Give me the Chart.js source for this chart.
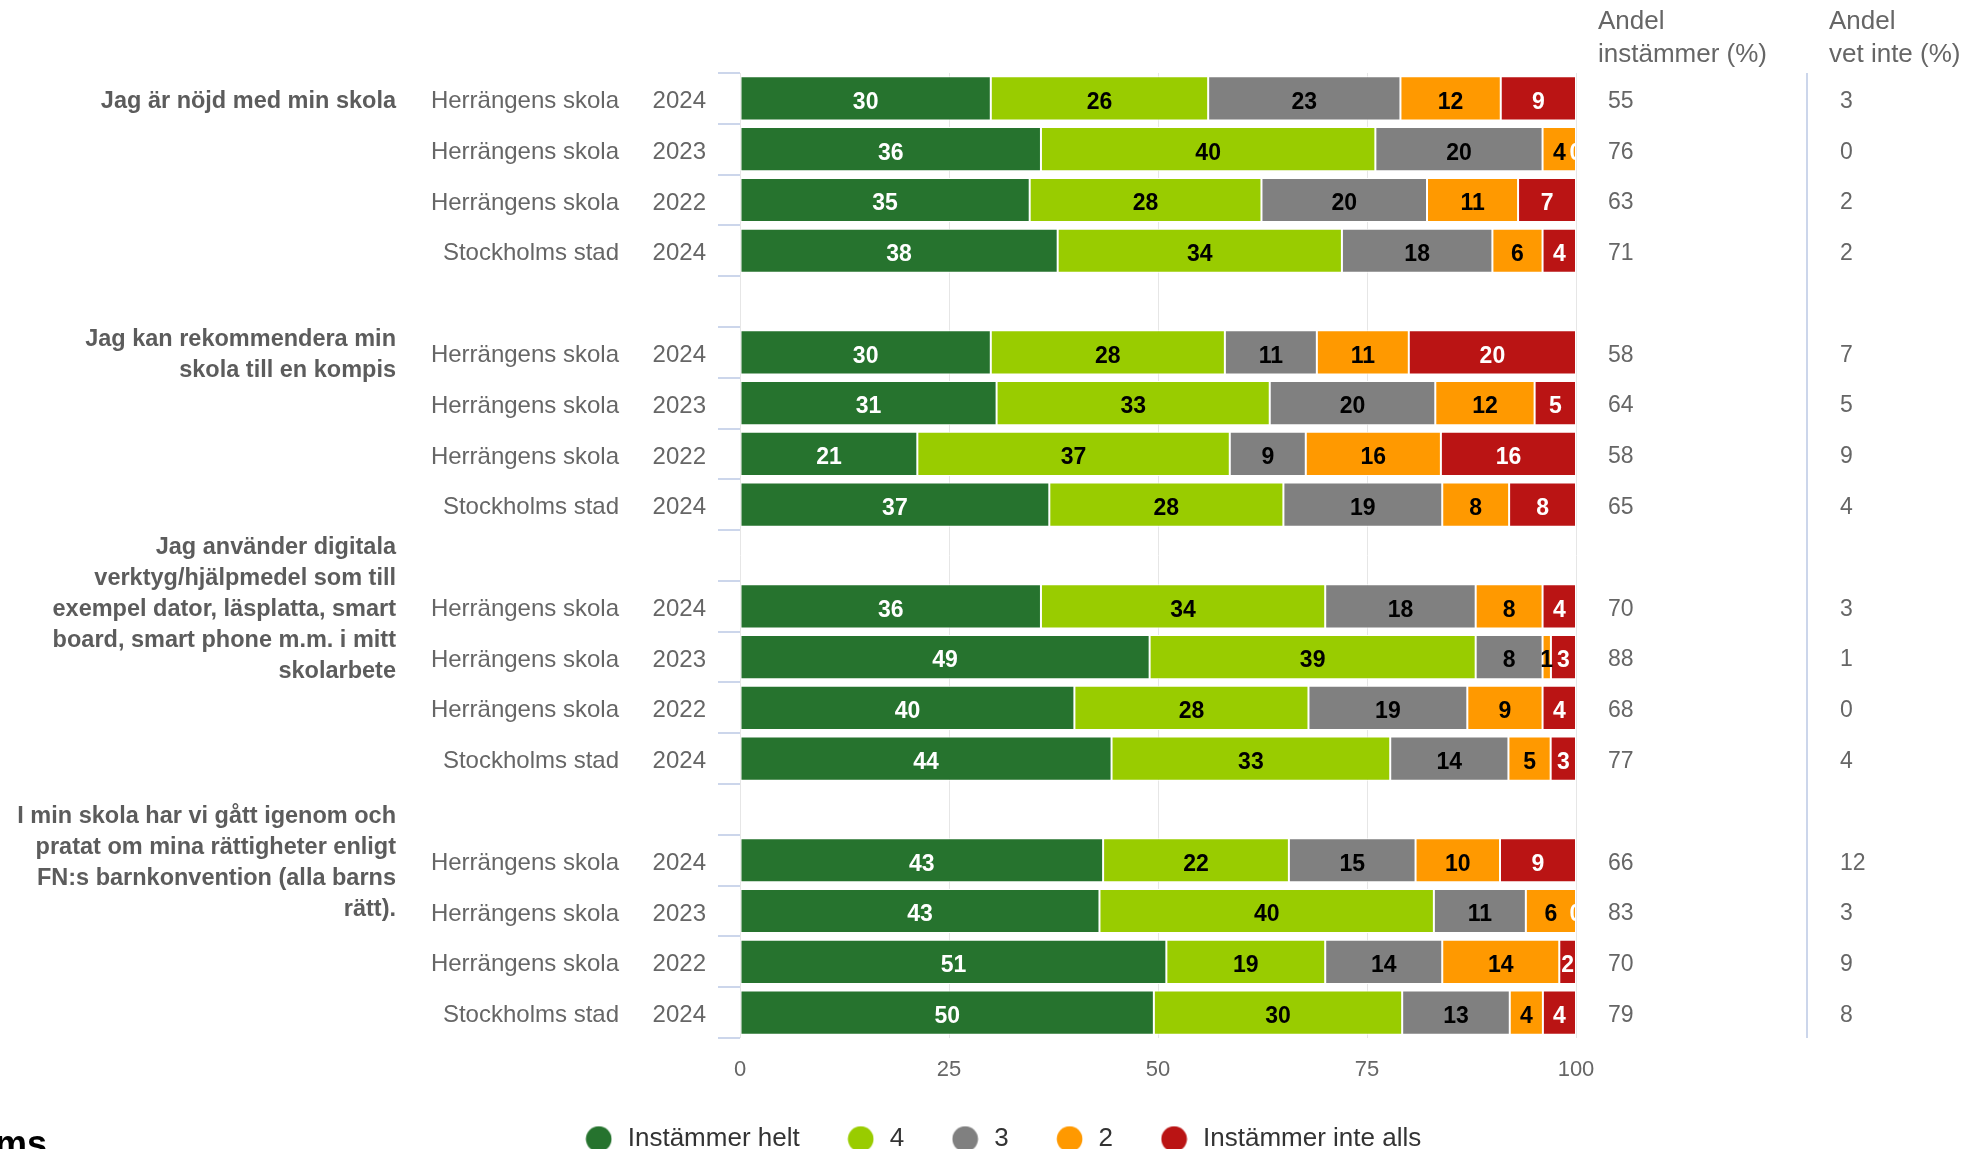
<!DOCTYPE html>
<html lang="sv">
<head>
<meta charset="UTF-8">
<title>Elevenkät Herrängens skola</title>
<script src="https://cdn.jsdelivr.net/npm/chart.js"></script>
<style>
  html, body { margin: 0; padding: 0; background: #fff; overflow: hidden; }
  canvas { display: block; }
</style>
</head>
<body>
<canvas id="chart" width="1970" height="1162"></canvas>
<script>
// question texts, already split the way they wrap in the original
const questions = [
  ['Jag är nöjd med min skola'],
  ['Jag kan rekommendera min', 'skola till en kompis'],
  ['Jag använder digitala', 'verktyg/hjälpmedel som till', 'exempel dator, läsplatta, smart', 'board, smart phone m.m. i mitt', 'skolarbete'],
  ['I min skola har vi gått igenom och', 'pratat om mina rättigheter enligt', 'FN:s barnkonvention (alla barns', 'rätt).']
];
const units = ['Herrängens skola', 'Herrängens skola', 'Herrängens skola', 'Stockholms stad'];
const years = ['2024', '2023', '2022', '2024'];
const seriesNames = ['Instämmer helt', '4', '3', '2', 'Instämmer inte alls'];

// one value per row, 4 rows per question
const helt     = [30, 36, 35, 38,  30, 31, 21, 37,  36, 49, 40, 44,  43, 43, 51, 50];
const fyra     = [26, 40, 28, 34,  28, 33, 37, 28,  34, 39, 28, 33,  22, 40, 19, 30];
const tre      = [23, 20, 20, 18,  11, 20,  9, 19,  18,  8, 19, 14,  15, 11, 14, 13];
const tva      = [12,  4, 11,  6,  11, 12, 16,  8,   8,  1,  9,  5,  10,  6, 14,  4];
const inteAlls = [ 9,  0,  7,  4,  20,  5, 16,  8,   4,  3,  4,  3,   9,  0,  2,  4];
const andelInstammer = [55, 76, 63, 71,  58, 64, 58, 65,  70, 88, 68, 77,  66, 83, 70, 79];
const andelVetInte   = [ 3,  0,  2,  2,   7,  5,  9,  4,   3,  1,  0,  4,  12,  3,  9,  8];
const xTicks = [0, 25, 50, 75, 100];

const series = [helt, fyra, tre, tva, inteAlls];
const colors = ['#26732e', '#99cc00', '#808080', '#ff9900', '#ba1414'];
const labelColors = ['#ffffff', '#000000', '#000000', '#000000', '#ffffff'];
const family = '"Liberation Sans", Arial, Helvetica, sans-serif';

// rows of the y axis, with an empty slot between questions
const rows = [];
questions.forEach((q, qi) => {
  if (qi > 0) rows.push(null);
  for (let r = 0; r < 4; r++) rows.push({ q: qi, r: r, i: qi * 4 + r });
});
const totals = helt.map((_, i) => series.reduce((s, arr) => s + arr[i], 0));

// small round markers for the legend
function dot(color) {
  const c = document.createElement('canvas');
  c.width = 27; c.height = 27;
  const g = c.getContext('2d');
  g.fillStyle = color;
  g.beginPath();
  g.arc(13.5, 13.5, 12.8, 0, Math.PI * 2);
  g.fill();
  return c;
}

// percent stacking like the original: every bar fills 0-100
const datasets = seriesNames.map((name, s) => ({
  label: name,
  data: rows.map(row => row ? series[s][row.i] * 100 / totals[row.i] : null),
  backgroundColor: colors[s],
  borderColor: '#ffffff',
  borderWidth: 1,
  borderSkipped: false,
  barPercentage: 0.87,
  categoryPercentage: 1,
  pointStyle: dot(colors[s])
}));

const sidePlugin = {
  id: 'side',
  afterDatasetsDraw(chart) {
    const { ctx, chartArea: a } = chart;
    ctx.save();
    ctx.beginPath();
    ctx.rect(a.left, a.top, a.right - a.left, a.bottom - a.top);
    ctx.clip();
    ctx.font = 'bold 23px ' + family;
    ctx.textAlign = 'center';
    ctx.textBaseline = 'middle';
    chart.data.datasets.forEach((ds, s) => {
      chart.getDatasetMeta(s).data.forEach((bar, k) => {
        const row = rows[k];
        if (!row) return;
        ctx.fillStyle = labelColors[s];
        ctx.fillText(String(series[s][row.i]), (bar.x + bar.base) / 2, bar.y + 4);
      });
    });
    ctx.restore();
  },
  afterDraw(chart) {
    const { ctx, chartArea: a, scales: { y } } = chart;
    ctx.save();
    ctx.textBaseline = 'middle';

    rows.forEach((row, k) => {
      if (!row) return;
      const py = y.getPixelForValue(k) + 3;
      ctx.fillStyle = '#666666';
      ctx.font = '24px ' + family;
      ctx.textAlign = 'right';
      ctx.fillText(units[row.r], a.left - 121, py);
      ctx.fillText(years[row.r], a.left - 34, py);

      if (row.r === 0) {
        const lines = questions[row.q];
        ctx.font = 'bold 23.5px ' + family;
        ctx.fillStyle = '#5c5c5c';
        const lh = 31;
        const y0 = py - (lines.length - 1) * lh / 2;
        lines.forEach((t, j) => ctx.fillText(t, a.left - 344, y0 + j * lh));
      }

      ctx.font = '23px ' + family;
      ctx.fillStyle = '#666666';
      ctx.textAlign = 'left';
      ctx.fillText(String(andelInstammer[row.i]), a.right + 32, py);
      ctx.fillText(String(andelVetInte[row.i]), a.right + 264, py);
    });

    // column headers
    ctx.font = '26px ' + family;
    ctx.fillStyle = '#666666';
    ctx.textAlign = 'left';
    ctx.fillText('Andel', a.right + 22, 22);
    ctx.fillText('instämmer (%)', a.right + 22, 55);
    ctx.fillText('Andel', a.right + 253, 22);
    ctx.fillText('vet inte (%)', a.right + 253, 55);

    // separator line between the two columns
    ctx.strokeStyle = '#ccd6eb';
    ctx.lineWidth = 2;
    ctx.beginPath();
    ctx.moveTo(a.right + 231, a.top);
    ctx.lineTo(a.right + 231, a.bottom);
    ctx.stroke();

    // cut off text in the lower left corner
    ctx.font = 'bold 36px ' + family;
    ctx.fillStyle = '#000000';
    ctx.textBaseline = 'alphabetic';
    ctx.fillText('ms', -5, 1156);
    ctx.restore();
  }
};

new Chart(document.getElementById('chart'), {
  type: 'bar',
  data: { labels: rows.map((r, k) => String(k)), datasets: datasets },
  options: {
    indexAxis: 'y',
    responsive: false,
    animation: false,
    devicePixelRatio: 1,
    layout: { padding: { left: 34, top: 73, right: 0, bottom: 0 } },
    scales: {
      x: {
        stacked: true,
        min: 0,
        max: 100,
        afterBuildTicks: s => { s.ticks = xTicks.map(v => ({ value: v })); },
        afterFit: s => { s.height = 43; },
        ticks: { padding: 21, color: '#666666', font: { size: 22, lineHeight: 1, family: family } },
        grid: { color: '#e6e6e6', drawTicks: false },
        border: { display: false }
      },
      y: {
        stacked: true,
        ticks: { display: false },
        grid: { drawOnChartArea: false, tickLength: 22, color: '#ccd6eb', lineWidth: 2 },
        border: { display: false },
        afterFit: s => { s.width = 706; }
      },
      yr: {
        type: 'category',
        axis: 'y',
        position: 'right',
        ticks: { display: false },
        grid: { display: false },
        border: { display: false },
        afterFit: s => { s.width = 394; }
      }
    },
    plugins: {
      legend: {
        position: 'bottom',
        labels: {
          usePointStyle: true,
          pointStyleWidth: 32,
          boxHeight: 26,
          padding: 45,
          color: '#333333',
          font: { size: 26, family: family }
        }
      },
      tooltip: { enabled: false }
    }
  },
  plugins: [sidePlugin]
});
</script>
</body>
</html>
